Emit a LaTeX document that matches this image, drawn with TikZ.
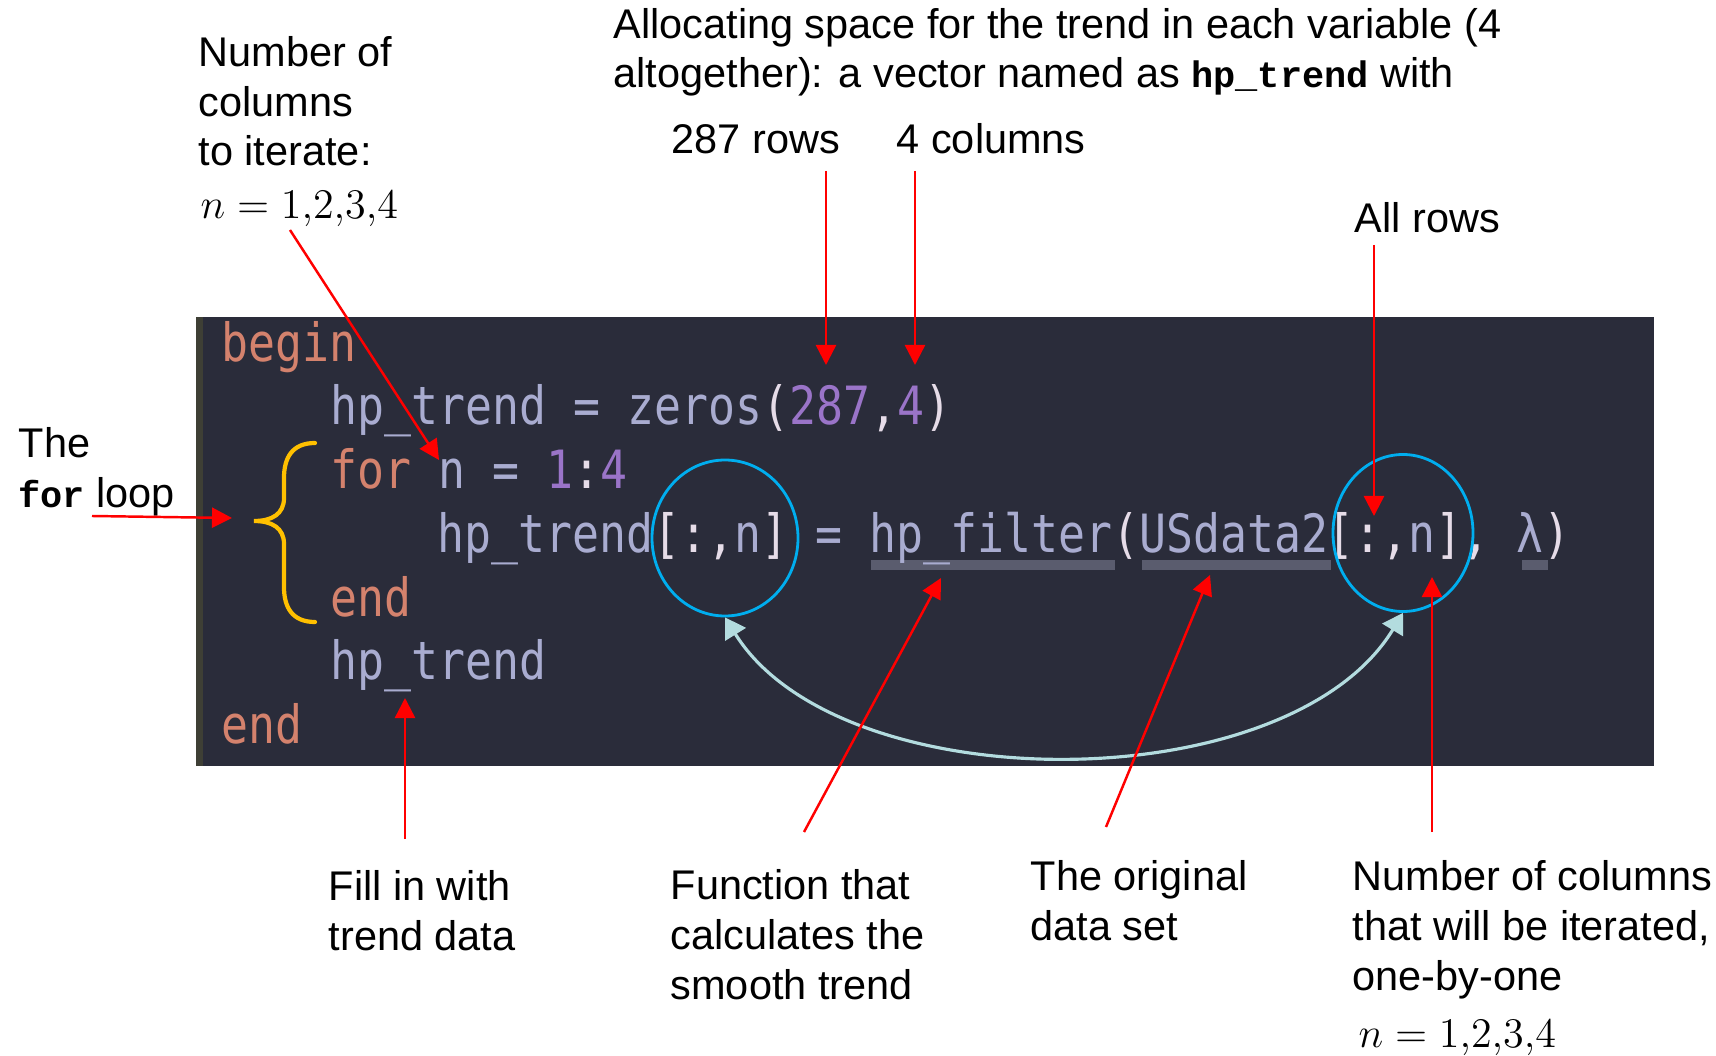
\documentclass[tikz,border=0pt]{standalone}
\usepackage{fontspec}
\setmainfont{Liberation Sans}
\newfontfamily\codefont[FakeStretch=0.85]{DejaVu Sans Mono}
\newfontfamily\notemono{Liberation Mono}
\usetikzlibrary{arrows.meta,shapes.geometric}

\definecolor{editorbg}{HTML}{2A2C3A}
\definecolor{gutter}{HTML}{3E3F35}
\definecolor{kwcolor}{HTML}{D4826D}
\definecolor{idcolor}{HTML}{A9ACD0}
\definecolor{numcolor}{HTML}{9A74C8}
\definecolor{brcolor}{HTML}{E6DCE8}
\definecolor{ulcolor}{HTML}{5A5C6E}
\definecolor{ringblue}{HTML}{00AEEF}
\definecolor{linkcyan}{HTML}{B3DCDF}
\definecolor{braceyellow}{HTML}{FFC000}

\newcommand{\kw}[1]{\textcolor{kwcolor}{#1}}
\newcommand{\idn}[1]{\textcolor{idcolor}{#1}}
\newcommand{\cnum}[1]{\textcolor{numcolor}{#1}}
\newcommand{\brk}[1]{\textcolor{brcolor}{#1}}
\newcommand{\notecode}[1]{{\notemono\bfseries\fontsize{10.5}{14.2}\selectfont #1}}

\begin{document}
\begin{tikzpicture}[
            x=0.1mm, y=-0.1mm,
            note/.style={
                anchor=base west,
                inner sep=0pt,
                align=left,
                font=\fontsize{11.8}{14.2}\selectfont
            },
            codeline/.style={
                anchor=base west,
                inner sep=0pt,
                font=\codefont\fontsize{15}{18}\selectfont
            },
            callout/.style={
                draw=red,
                line width=0.7pt,
                -{Triangle[length=2mm,width=2mm]}
            },
            ring/.style={
                ellipse,
                draw=ringblue,
                line width=0.8pt,
                inner sep=0pt
            },
            link/.style={
                draw=linkcyan,
                line width=0.9pt,
                {Triangle[length=2mm,width=2.4mm]}-{Triangle[length=2mm,width=2.4mm]}
            }
        ]
            \useasboundingbox (0,0) rectangle (1716,1056);

            % Editor window
            \fill[editorbg] (196,317) rectangle (1654,766);
            \fill[gutter] (196,317) rectangle (203,766);
            \fill[ulcolor] (871,560) rectangle (1115,570);
            \fill[ulcolor] (1142,560) rectangle (1331,570);
            \fill[ulcolor] (1522,560) rectangle (1548,570);

            % Code lines
            \node[codeline] (lineBegin) at (221,362) {\kw{begin}};
            \node[codeline] (lineAlloc) at (330,425) {\idn{hp\_trend = zeros}\brk{(}\cnum{287}\brk{,}\cnum{4}\brk{)}};
            \node[codeline] (lineFor) at (330,489) {\kw{for} \idn{n =} \cnum{1}\brk{:}\cnum{4}};
            \node[codeline] (lineBody) at (437,552) {\idn{hp\_trend}\brk{[:,}\idn{n}\brk{]} \idn{= hp\_filter}\brk{(}\idn{USdata2}\brk{[:,}\idn{n}\brk{],} \idn{λ}\brk{)}};
            \node[codeline] (lineEndFor) at (330,616) {\kw{end}};
            \node[codeline] (lineReturn) at (330,679) {\idn{hp\_trend}};
            \node[codeline] (lineEnd) at (221,743) {\kw{end}};

            % Brace round the loop
            \draw[braceyellow, line width=1.2pt, line cap=round]
                (315,443) .. controls (292,443) and (284,458) .. (284,478)
                -- (284,498) .. controls (284,514) and (272,521) .. (254,521)
                .. controls (272,521) and (284,528) .. (284,544)
                -- (284,587) .. controls (284,607) and (292,622) .. (315,622);

            % Rings and the link between them
            \node[ring, minimum width=14.6mm, minimum height=15.6mm] (ringLeft) at (725,538) {};
            \node[ring, minimum width=14.0mm, minimum height=15.7mm] (ringRight) at (1403,533) {};
            \draw[link] (ringLeft.south) .. controls (840,802) and (1288,802) .. (ringRight.south);

            % Labels (anchored at the last line)
            \node[note] (iterNote) at (198,166) {Number of\\columns\\to iterate:};
            \node[note] (iterMath) at (200,219) {$n = 1{,}2{,}3{,}4$};
            \node[note] (allocNote) at (613,88) {Allocating space for the trend in each variable (4\\altogether): a vector named as \notecode{hp\_trend} with};
            \node[note] (rowsNote) at (671,154) {287 rows};
            \node[note] (colsNote) at (896,154) {4 columns};
            \node[note] (allNote) at (1354,233) {All rows};
            \node[note] (loopNote) at (18,507) {The\\\notecode{for} loop};
            \node[note] (fillNote) at (328,950) {Fill in with\\trend data};
            \node[note] (funcNote) at (670,999) {Function that\\calculates the\\smooth trend};
            \node[note] (dataNote) at (1030,940) {The original\\data set};
            \node[note] (colsIterNote) at (1352,990) {Number of columns\\that will be iterated,\\one-by-one};
            \node[note] (colsIterMath) at (1358,1047) {$n = 1{,}2{,}3{,}4$};

            % Callout ends
            \coordinate (iterTail) at (290,230);
            \coordinate (iterTip) at (439,460);
            \coordinate (loopTail) at (92,516);
            \coordinate (loopTip) at (232,518);
            \coordinate (rowsTail) at (826,171);
            \coordinate (rowsTip) at (826,365);
            \coordinate (colsTail) at (915,171);
            \coordinate (colsTip) at (915,365);
            \coordinate (allTail) at (1374,245);
            \coordinate (allTip) at (1374,516);
            \coordinate (fillTail) at (405,839);
            \coordinate (fillTip) at (405,698);
            \coordinate (funcTail) at (804,832);
            \coordinate (funcTip) at (941,578);
            \coordinate (dataTail) at (1106,827);
            \coordinate (dataTip) at (1210,575);
            \coordinate (colsIterTail) at (1432,832);
            \coordinate (colsIterTip) at (1432,577);

            % Callouts
            \draw[callout] (iterTail) -- (iterTip);
            \draw[callout] (loopTail) -- (loopTip);
            \draw[callout] (rowsTail) -- (rowsTip);
            \draw[callout] (colsTail) -- (colsTip);
            \draw[callout] (allTail) -- (allTip);
            \draw[callout] (fillTail) -- (fillTip);
            \draw[callout] (funcTail) -- (funcTip);
            \draw[callout] (dataTail) -- (dataTip);
            \draw[callout] (colsIterTail) -- (colsIterTip);
        \end{tikzpicture}
\end{document}
